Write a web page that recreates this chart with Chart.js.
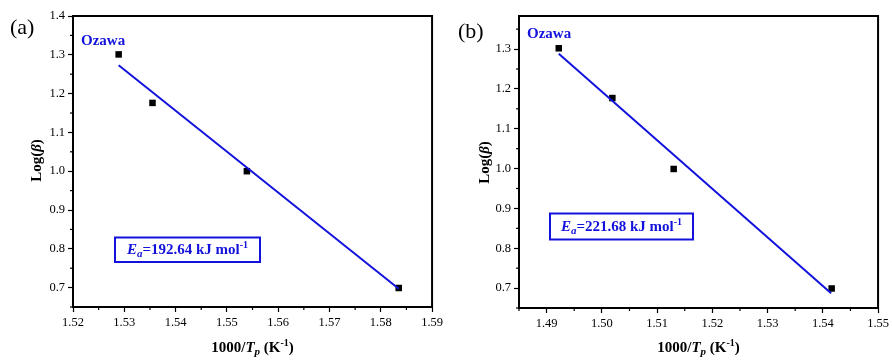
<!DOCTYPE html>
<html>
<head>
<meta charset="utf-8">
<script src="https://cdn.jsdelivr.net/npm/chart.js@4.4.1/dist/chart.umd.min.js"></script>
<style>
  html, body { margin: 0; padding: 0; background: #fff; }
  #wrap { position: relative; width: 892px; height: 360px; overflow: hidden; }
  .panel { position: absolute; top: 0; width: 446px; height: 360px; }
</style>
</head>
<body>
<div id="wrap">
  <div class="panel" style="left:0"><canvas id="cA" width="446" height="360"></canvas></div>
  <div class="panel" style="left:446px"><canvas id="cB" width="446" height="360"></canvas></div>
</div>
<script>
// ---------- Data ----------
// Panel (a)
const xA = [1.5289, 1.5355, 1.5539, 1.5835];
const yA = [1.301, 1.176, 1.000, 0.699];
const fitXA = [1.5289, 1.5835];
const fitYA = [1.273, 0.697];
const xTicksA = [1.52, 1.53, 1.54, 1.55, 1.56, 1.57, 1.58, 1.59];
const yTicksA = [0.7, 0.8, 0.9, 1.0, 1.1, 1.2, 1.3, 1.4];
const eaA = '192.64';

// Panel (b)
const xB = [1.4922, 1.5019, 1.5130, 1.5416];
const yB = [1.302, 1.177, 0.999, 0.699];
const fitXB = [1.4922, 1.5415];
const fitYB = [1.288, 0.687];
const xTicksB = [1.49, 1.50, 1.51, 1.52, 1.53, 1.54, 1.55];
const yTicksB = [0.7, 0.8, 0.9, 1.0, 1.1, 1.2, 1.3];
const eaB = '221.68';

const BLUE = '#1212dc';
const SERIF = '"Liberation Serif", "Times New Roman", serif';

// draw a sequence of text runs (rich text), centred at (cx, cy)
function richText(ctx, runs, cx, cy, align) {
  let w = 0;
  runs.forEach(r => { ctx.font = r.font; r.w = ctx.measureText(r.t).width; w += r.w; });
  let x = align === 'left' ? cx : cx - w / 2;
  ctx.textBaseline = 'middle';
  ctx.textAlign = 'left';
  runs.forEach(r => { ctx.font = r.font; ctx.fillText(r.t, x, cy + (r.dy || 0)); x += r.w; });
  return w;
}

function makeChart(id, cfg) {
  const points = cfg.x.map((v, i) => ({ x: v, y: cfg.y[i] }));
  const fit = cfg.fx.map((v, i) => ({ x: v, y: cfg.fy[i] }));

  const decor = {
    id: 'decor',
    afterDraw(chart) {
      const ctx = chart.ctx;
      const a = chart.chartArea;
      const sx = chart.scales.x, sy = chart.scales.y;
      ctx.save();
      // frame
      ctx.strokeStyle = '#000';
      ctx.lineWidth = 2;
      ctx.strokeRect(a.left, a.top, a.right - a.left, a.bottom - a.top);
      // minor ticks
      ctx.lineWidth = 1.2;
      const xt = cfg.xt, yt = cfg.yt;
      const xs = (xt[1] - xt[0]) / 2, ys = (yt[1] - yt[0]) / 2;
      for (let v = xt[0] - xs; v <= sx.max + 1e-9; v += 2 * xs) {
        if (v < sx.min - 1e-9) continue;
        const px = sx.getPixelForValue(v);
        ctx.beginPath(); ctx.moveTo(px, a.bottom); ctx.lineTo(px, a.bottom + 3); ctx.stroke();
      }
      for (let v = yt[0] - ys; v <= sy.max + 1e-9; v += 2 * ys) {
        if (v < sy.min - 1e-9) continue;
        const py = sy.getPixelForValue(v);
        ctx.beginPath(); ctx.moveTo(a.left, py); ctx.lineTo(a.left - 3, py); ctx.stroke();
      }
      // panel label
      ctx.fillStyle = '#000';
      ctx.font = '22px ' + SERIF;
      ctx.textAlign = 'left'; ctx.textBaseline = 'middle';
      ctx.fillText(cfg.label, cfg.labelPos[0], cfg.labelPos[1]);
      // Ozawa
      ctx.fillStyle = BLUE;
      ctx.font = 'bold 15px ' + SERIF;
      ctx.fillText('Ozawa', cfg.ozPos[0], cfg.ozPos[1]);
      // Ea box
      const b = cfg.box;
      ctx.strokeStyle = BLUE; ctx.lineWidth = 2;
      ctx.strokeRect(b[0], b[1], b[2] - b[0], b[3] - b[1]);
      const fs = 15;
      richText(ctx, [
        { t: 'E', font: 'italic bold ' + fs + 'px ' + SERIF },
        { t: 'a', font: 'italic bold 11px ' + SERIF, dy: 4 },
        { t: '=' + cfg.ea + ' kJ mol', font: 'bold ' + fs + 'px ' + SERIF },
        { t: '-1', font: 'bold 10px ' + SERIF, dy: -5 }
      ], (b[0] + b[2]) / 2, (b[1] + b[3]) / 2 + 0.5);
      // x title
      ctx.fillStyle = '#000';
      richText(ctx, [
        { t: '1000/', font: 'bold 15px ' + SERIF },
        { t: 'T', font: 'italic bold 15px ' + SERIF },
        { t: 'p', font: 'italic bold 11px ' + SERIF, dy: 4 },
        { t: ' (K', font: 'bold 15px ' + SERIF },
        { t: '-1', font: 'bold 10px ' + SERIF, dy: -5 },
        { t: ')', font: 'bold 15px ' + SERIF }
      ], (a.left + a.right) / 2, 348);
      // y title
      ctx.save();
      ctx.translate(cfg.yTitle[0], cfg.yTitle[1]);
      ctx.rotate(-Math.PI / 2);
      richText(ctx, [
        { t: 'Log(', font: 'bold 15px ' + SERIF },
        { t: '\u03B2', font: 'italic bold 15px ' + SERIF },
        { t: ')', font: 'bold 15px ' + SERIF }
      ], 0, 0);
      ctx.restore();
      ctx.restore();
    }
  };

  const axis = (ticksArr, min, max, fitSize, isX) => ({
    type: 'linear',
    min, max,
    afterBuildTicks(scale) { scale.ticks = ticksArr.map(v => ({ value: v })); },
    afterFit(scale) { if (isX) scale.height = fitSize; else scale.width = fitSize; },
    ticks: {
      color: '#000',
      font: { family: SERIF, size: 12.5 },
      padding: 3,
      callback: v => (isX ? v.toFixed(2) : v.toFixed(1)),
      maxRotation: 0, autoSkip: false
    },
    grid: {
      display: true, drawOnChartArea: false, drawTicks: true,
      tickLength: 5, tickColor: '#000', tickWidth: 1.2, color: '#000'
    },
    border: { display: true, color: '#000', width: 2 }
  });

  return new Chart(document.getElementById(id), {
    type: 'scatter',
    data: {
      datasets: [
        { data: fit, showLine: true, borderColor: BLUE, borderWidth: 2, pointRadius: 0, order: 0, fill: false },
        { data: points, showLine: false, pointStyle: 'rect', pointRadius: 4.6, backgroundColor: '#000', borderColor: '#000', borderWidth: 0, order: 1 }
      ]
    },
    options: {
      responsive: false,
      animation: false,
      events: [],
      layout: { padding: { left: 0, top: 16, right: cfg.padRight, bottom: 0 } },
      plugins: { legend: { display: false }, tooltip: { enabled: false } },
      scales: {
        x: axis(cfg.xt, cfg.xmin, cfg.xmax, cfg.xh, true),
        y: axis(cfg.yt, cfg.ymin, cfg.ymax, 73, false)
      }
    },
    plugins: [decor]
  });
}

makeChart('cA', {
  x: xA, y: yA, fx: fitXA, fy: fitYA, xt: xTicksA, yt: yTicksA,
  xmin: 1.52, xmax: 1.59, ymin: 0.65, ymax: 1.4,
  padRight: 10, xh: 53,
  label: '(a)', labelPos: [10, 28], ozPos: [81, 41],
  box: [115, 237.5, 260, 262], ea: eaA,
  yTitle: [37, 160.5]
});

makeChart('cB', {
  x: xB, y: yB, fx: fitXB, fy: fitYB, xt: xTicksB, yt: yTicksB,
  xmin: 1.485, xmax: 1.55, ymin: 0.65, ymax: 1.383,
  padRight: 13, xh: 52,
  label: '(b)', labelPos: [12, 32], ozPos: [81, 34],
  box: [104, 213.5, 247, 239.5], ea: eaB,
  yTitle: [39, 162.5]
});
</script>
</body>
</html>
